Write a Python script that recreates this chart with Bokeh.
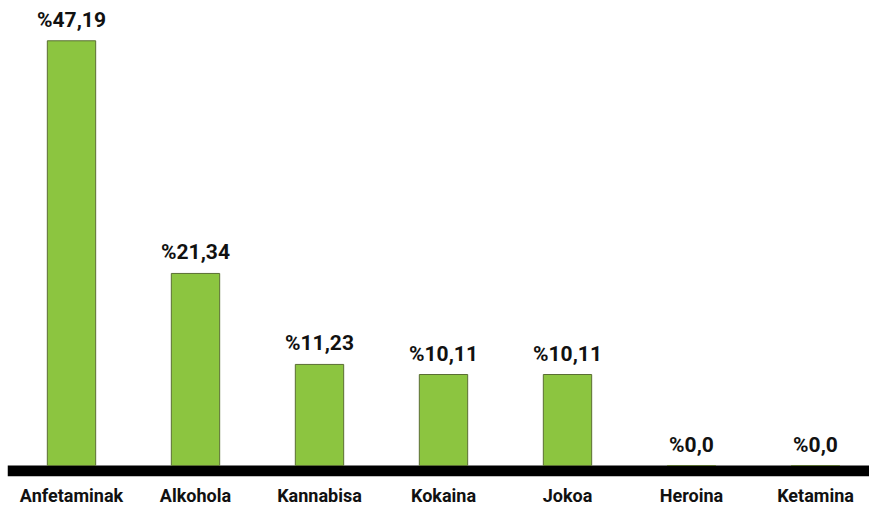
from bokeh.plotting import figure
from bokeh.models import ColumnDataSource, BoxAnnotation, Range1d, FixedTicker, LabelSet
from bokeh.core.properties import value
from bokeh.embed import file_html
from bokeh.resources import INLINE

categories = ["Anfetaminak", "Alkohola", "Kannabisa", "Kokaina", "Jokoa", "Heroina", "Ketamina"]
values = [47.19, 21.34, 11.23, 10.11, 10.11, 0.0, 0.0]
labels = ["%47,19", "%21,34", "%11,23", "%10,11", "%10,11", "%0,0", "%0,0"]

xs = list(range(len(categories)))
src = ColumnDataSource(dict(x=xs, v=values, lab=labels))

FW, FH = 862, 476
X0 = -(71 - 7) / 124.0
Y0 = -11 / 9.0
p = figure(frame_width=FW, frame_height=FH, output_backend="svg", toolbar_location=None,
           x_range=Range1d(X0, X0 + FW / 124.0), y_range=Range1d(Y0, Y0 + FH / 9.0),
           min_border=0, min_border_left=7, outline_line_color=None)
p.background_fill_color = "white"
p.border_fill_color = "white"
p.grid.visible = False
p.yaxis.visible = False

p.add_layout(BoxAnnotation(top=0, fill_color="black", fill_alpha=1.0, line_color=None, level="underlay"))

p.vbar(x="x", top="v", bottom=0, width=0.39, source=src,
       fill_color="#8cc540", line_color="#5a6e33", line_width=1)

p.add_layout(LabelSet(x="x", y="v", text="lab", source=src, text_align="center",
                      text_baseline="bottom", y_offset=9, text_font=value("Roboto"),
                      text_font_style="bold", text_font_size="21px", text_color="#111111"))

ax = p.xaxis[0]
ax.ticker = FixedTicker(ticks=xs)
ax.major_label_overrides = {i: c for i, c in enumerate(categories)}
ax.axis_line_color = None
ax.major_tick_line_color = None
ax.minor_tick_line_color = None
ax.major_tick_out = 0
ax.major_tick_in = 0
ax.major_label_standoff = 8
ax.major_label_text_font = "Roboto"
ax.major_label_text_font_style = "bold"
ax.major_label_text_font_size = "18px"
ax.major_label_text_color = "#111111"

open("out.html", "w").write(file_html(p, INLINE))
